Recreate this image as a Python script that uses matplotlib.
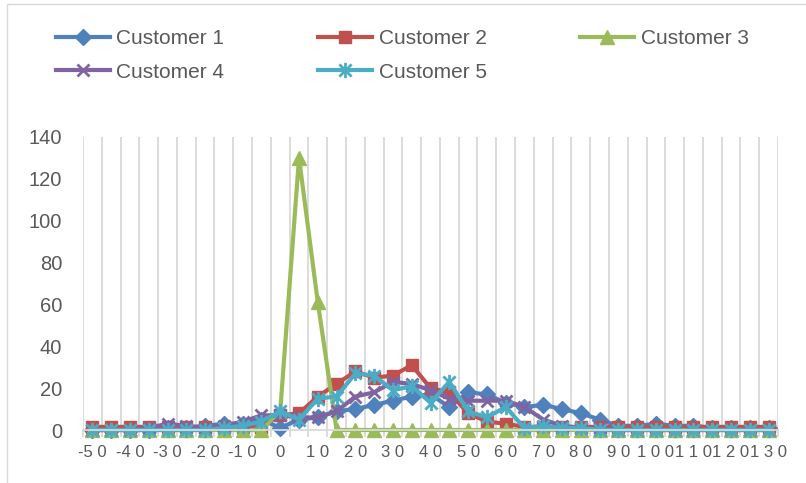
import numpy as np
import matplotlib
matplotlib.use("Agg")
import matplotlib.pyplot as plt
from matplotlib.path import Path
from matplotlib.patches import Rectangle

plt.rcParams['font.family'] = ['Liberation Sans', 'DejaVu Sans']

# temperature bins (category axis) and counts per customer
temps = list(range(-50, 135, 5))
customer1 = [0, 0, 0, 0, 1, 1, 2, 3, 3, 5, 1, 5, 6, 9, 10, 12, 14, 16, 17, 11,
             18, 17, 13, 11, 12, 10, 8, 5, 2, 2, 3, 2, 2, 1, 1, 1, 1]
customer2 = [1.5] * 10 + [7, 8, 16, 22, 28, 25, 26, 31, 20, 18, 8, 4, 3] + [1.5] * 14
customer3 = [0] * 10 + [9, 130, 61] + [0] * 24
customer4 = [0, 0, 0, 1, 3, 2, 1, 2, 4, 7, 7, 6, 6, 9, 16, 18, 23, 22, 19, 15,
             14, 14, 14, 11, 5, 2, 1, 1] + [0] * 9
customer5 = [0] * 7 + [1, 2, 4, 9, 5, 15, 16, 27, 26, 19, 21, 13, 23, 9, 6, 11,
                       1, 2, 1, 1] + [0] * 10
names = ['Customer 1', 'Customer 2', 'Customer 3', 'Customer 4', 'Customer 5']

colors = ['#4F81BD', '#C0504D', '#9BBB59', '#8064A2', '#4BACC6']
grid_c = '#D9D9D9'
text_c = '#595959'

# asterisk marker: vertical bar plus an x
star = Path([(0, -1), (0, 1), (-0.8, -0.8), (0.8, 0.8), (-0.8, 0.8), (0.8, -0.8)],
            [Path.MOVETO, Path.LINETO] * 3)

styles = [
    dict(marker='D', ms=8.5),
    dict(marker='s', ms=9),
    dict(marker='^', ms=10),
    dict(marker='x', ms=9, mew=2),
    dict(marker=star, ms=11, mew=2, mfc='none'),
]

fig = plt.figure(figsize=(8.06, 4.83), dpi=100)
ax = fig.add_axes([83 / 806, 53 / 483, 695 / 806, 293 / 483])

x = np.arange(len(temps))
series = [customer1, customer2, customer3, customer4, customer5]
lines = []
for vals, name, c, st in zip(series, names, colors, styles):
    ln, = ax.plot(x, vals, color=c, lw=3, label=name, clip_on=False,
                  mec=c, **({'mfc': c} | st))
    lines.append(ln)

ax.set_xlim(-0.5, len(temps) - 0.5)
ax.set_ylim(0, 140)

# category gridlines sit between bins
ax.set_xticks(np.arange(-0.5, len(temps), 1), minor=True)
ax.grid(which='minor', axis='x', color=grid_c, lw=1.3)
ax.tick_params(axis='x', which='minor', length=5, color=grid_c, width=1.3)

lab = []
for t in temps[::2]:
    s = str(t)
    if s.startswith('-'):
        lab.append('-' + ' '.join(s[1:]))
    else:
        lab.append(' '.join(s))
ax.set_xticks(x[::2])
ax.set_xticklabels(lab, fontsize=12, color=text_c)
ax.tick_params(axis='x', which='major', length=0, pad=11)

ax.set_yticks(range(0, 141, 20))
ax.tick_params(axis='y', length=0, pad=15, labelsize=14.5, labelcolor=text_c)

for sp in ['top', 'left', 'right']:
    ax.spines[sp].set_visible(False)
ax.spines['bottom'].set_color(grid_c)
ax.spines['bottom'].set_linewidth(1.3)

# legend fills column by column, so reorder to read across rows
order = [0, 3, 1, 4, 2]
leg = ax.legend([lines[i] for i in order], [names[i] for i in order],
                loc='upper left', bbox_to_anchor=(56 / 806, 1 - 29 / 483),
                bbox_transform=fig.transFigure, ncol=3, frameon=False,
                fontsize=15, handlelength=2.6, handletextpad=0.3,
                columnspacing=4.5, labelspacing=0.7, borderpad=0,
                borderaxespad=0)
for t in leg.get_texts():
    t.set_color(text_c)

# chart area border
fig.add_artist(Rectangle((7 / 806, -0.1), 1.2, 1.1 - 4 / 483,
                         transform=fig.transFigure, fill=False,
                         ec=grid_c, lw=1))

fig.savefig('out.png', dpi=100)
